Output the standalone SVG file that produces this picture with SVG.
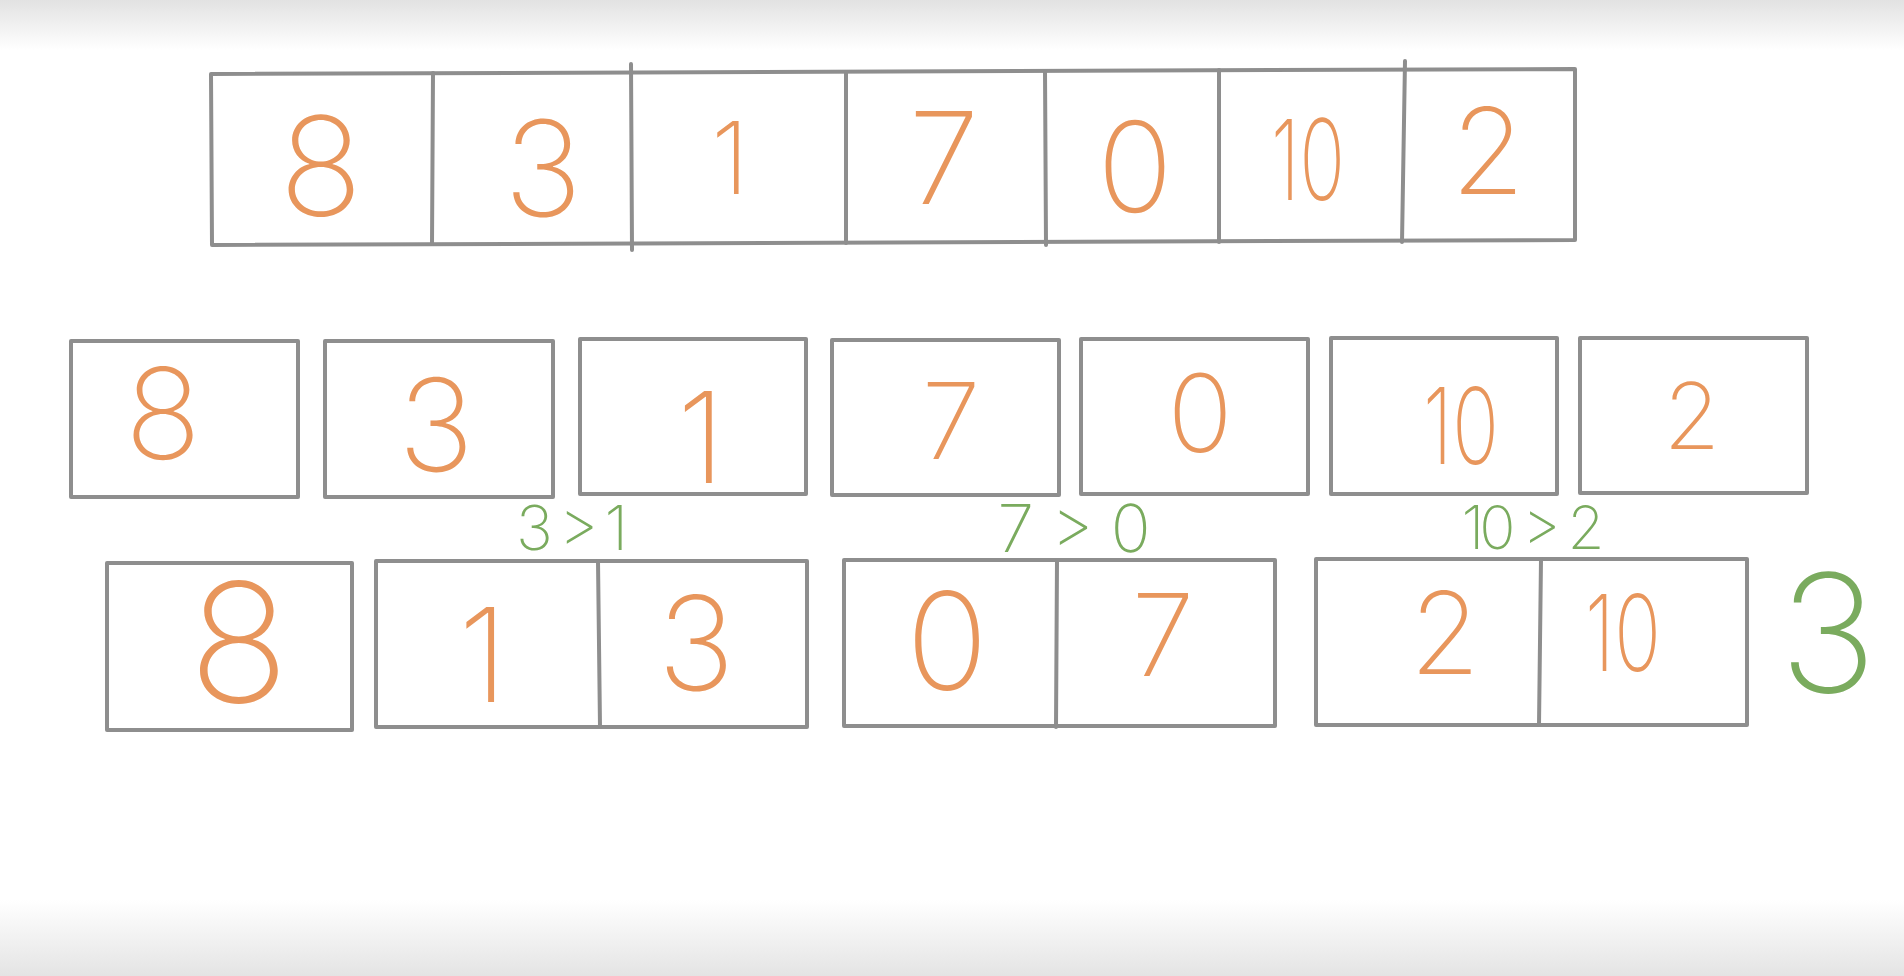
<svg xmlns="http://www.w3.org/2000/svg" width="1904" height="976" viewBox="0 0 1904 976">
<style>
.box{fill:none;stroke:#8e8e8e;stroke-width:4;stroke-linejoin:round}
.div{stroke:#8e8e8e;stroke-width:4;stroke-linecap:round}
.d{font-family:Inter,"Liberation Sans",sans-serif;font-weight:200;fill:#e8965c;text-anchor:middle}
.g{font-family:Inter,"Liberation Sans",sans-serif;font-weight:200;fill:#7aab5e;text-anchor:middle}
</style>
<defs>
<linearGradient id="topg" x1="0" y1="0" x2="0" y2="1">
<stop offset="0" stop-color="#e2e2e2"/><stop offset="1" stop-color="#ffffff"/>
</linearGradient>
<linearGradient id="botg" x1="0" y1="0" x2="0" y2="1">
<stop offset="0" stop-color="#ffffff"/><stop offset="1" stop-color="#e4e4e4"/>
</linearGradient>
</defs>
<rect x="0" y="0" width="1904" height="976" fill="#ffffff"/>
<rect x="0" y="0" width="1904" height="50" fill="url(#topg)"/>
<rect x="0" y="900" width="1904" height="76" fill="url(#botg)"/>

<g id="top-array">
<polygon class="box" points="211,74 1575,69 1575,240 212,245"/>
<line class="div" x1="433" y1="73" x2="432" y2="244"/>
<line class="div" x1="631" y1="64" x2="632" y2="250"/>
<line class="div" x1="846" y1="72" x2="846" y2="243"/>
<line class="div" x1="1045" y1="71" x2="1046" y2="245"/>
<line class="div" x1="1219" y1="70" x2="1219" y2="242"/>
<line class="div" x1="1405" y1="61" x2="1402" y2="242"/>
<text class="d" x="321" y="216" font-size="138">8</text>
<text class="d" x="543" y="216" font-size="132">3</text>
<text class="d" x="730" y="194" font-size="100">1</text>
<text class="d" x="944" y="204" font-size="128">7</text>
<text class="d" x="1135" y="212" font-size="125">0</text>
<text class="d" x="1308" y="200" font-size="112" textLength="74" lengthAdjust="spacingAndGlyphs">10</text>
<text class="d" x="1488" y="194" font-size="120">2</text>
</g>

<g id="split-8"><rect class="box" x="71" y="341" width="227" height="156"/><text class="d" x="163" y="459" font-size="126">8</text></g>
<g id="split-3"><rect class="box" x="325" y="341" width="228" height="156"/><text class="d" x="436" y="471" font-size="128">3</text></g>
<g id="split-1"><rect class="box" x="580" y="339" width="226" height="155"/><text class="d" x="701" y="483" font-size="126">1</text></g>
<g id="split-7"><rect class="box" x="832" y="340" width="227" height="155"/><text class="d" x="951" y="459" font-size="106">7</text></g>
<g id="split-0"><rect class="box" x="1081" y="339" width="227" height="155"/><text class="d" x="1200" y="452" font-size="108">0</text></g>
<g id="split-10"><rect class="box" x="1331" y="338" width="226" height="156"/><text class="d" x="1461" y="464" font-size="106" textLength="76" lengthAdjust="spacingAndGlyphs">10</text></g>
<g id="split-2"><rect class="box" x="1580" y="338" width="227" height="155"/><text class="d" x="1692" y="449" font-size="92">2</text></g>

<g id="merge-8"><rect class="box" x="107" y="563" width="245" height="167"/><text class="d" x="239" y="702" font-size="166">8</text></g>
<g id="merge-1-3"><rect class="box" x="376" y="561" width="431" height="166"/><line class="div" x1="598" y1="561" x2="600" y2="727"/>
<text class="d" x="483" y="702" font-size="130">1</text><text class="d" x="696" y="690" font-size="130">3</text></g>
<g id="merge-0-7"><rect class="box" x="844" y="560" width="431" height="166"/><line class="div" x1="1057" y1="560" x2="1056" y2="727"/>
<text class="d" x="947" y="690" font-size="136">0</text><text class="d" x="1163" y="676" font-size="114">7</text></g>
<g id="merge-2-10"><rect class="box" x="1316" y="559" width="431" height="166"/><line class="div" x1="1541" y1="559" x2="1539" y2="725"/>
<text class="d" x="1445" y="674" font-size="114">2</text><text class="d" x="1623" y="671" font-size="106" textLength="76" lengthAdjust="spacingAndGlyphs">10</text></g>

<g id="labels">
<text class="g" x="572" y="550" font-size="62" textLength="112" lengthAdjust="spacing">3 &gt; 1</text>
<text class="g" x="1074" y="552" font-size="66" textLength="153" lengthAdjust="spacing">7 &gt; 0</text>
<text class="g" x="1533" y="549" font-size="60" textLength="143" lengthAdjust="spacing">10 &gt; 2</text>
<text class="g" x="1828" y="692" font-size="164">3</text>
</g>
</svg>
